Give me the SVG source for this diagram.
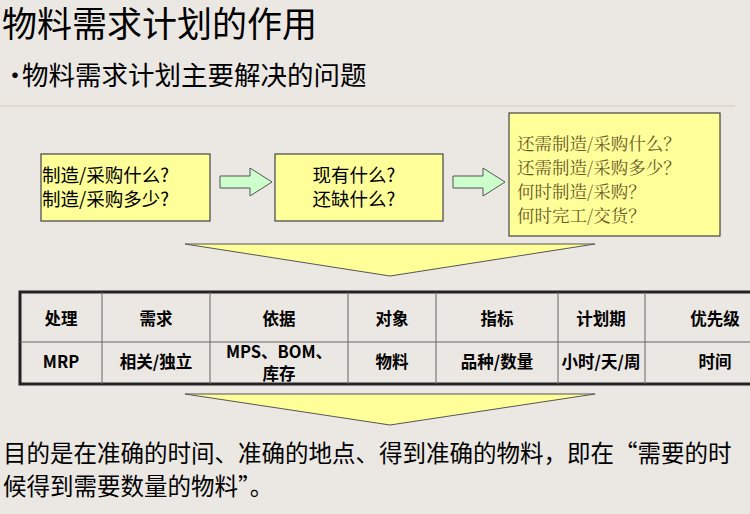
<svg xmlns="http://www.w3.org/2000/svg" width="750" height="514" viewBox="0 0 750 514">
<style>
text{font-family:"Noto Sans CJK SC","Liberation Sans",sans-serif;fill:#000}
.box{fill:#ffff99;stroke:#444;stroke-width:1.2}
.arr{fill:#ccffcc;stroke:#555;stroke-width:1}
.tri{fill:#ffff99;stroke:#555;stroke-width:1}
.serif{font-family:"Noto Serif CJK SC","Noto Sans CJK SC",serif;fill:#6b5a2a;font-size:17.5px}
.th{font-size:16.5px;font-weight:bold;text-anchor:middle}
.grid{stroke:#666;stroke-width:1}
</style>
<rect width="750" height="514" fill="#ebe7e3"/>
<text x="2" y="37" font-size="35">物料需求计划的作用</text>
<text x="2" y="85" font-size="26">·</text>
<text x="22" y="85" font-size="26.5">物料需求计划主要解决的问题</text>
<line x1="0" y1="106" x2="735" y2="106" stroke="#e0d8cc" stroke-width="2"/>
<g id="box1"><rect class="box" x="41" y="154" width="169" height="67"/>
<text x="42" y="182" font-size="18.5">制造/采购什么?</text><text x="42" y="206" font-size="18.5">制造/采购多少?</text></g>
<g id="box2"><rect class="box" x="275" y="154" width="168" height="67"/>
<text x="354" y="182" font-size="18.5" text-anchor="middle">现有什么?</text><text x="354" y="206" font-size="18.5" text-anchor="middle">还缺什么?</text></g>
<g id="box3"><rect class="box" x="509" y="113" width="211" height="123"/>
<text class="serif" x="517" y="150">还需制造/采购什么？</text>
<text class="serif" x="517" y="174">还需制造/采购多少？</text>
<text class="serif" x="517" y="198">何时制造/采购？</text>
<text class="serif" x="517" y="222">何时完工/交货？</text></g>
<g id="connectors">
<polygon class="arr" points="220,176 250,176 250,168 272,182 250,196 250,188 220,188"/>
<polygon class="arr" points="453,176 483,176 483,168 505,182 483,196 483,188 453,188"/>
<polygon class="tri" points="185,244 595,244 390,276"/>
<polygon class="tri" points="185,394 595,394 390,425"/>
</g>
<g id="table">
<rect x="20" y="292" width="740" height="92" fill="none" stroke="#222" stroke-width="3"/>
<line class="grid" x1="20" y1="342" x2="750" y2="342"/>
<line class="grid" x1="102" y1="292" x2="102" y2="384"/>
<line class="grid" x1="210" y1="292" x2="210" y2="384"/>
<line class="grid" x1="348" y1="292" x2="348" y2="384"/>
<line class="grid" x1="436" y1="292" x2="436" y2="384"/>
<line class="grid" x1="558" y1="292" x2="558" y2="384"/>
<line class="grid" x1="645" y1="292" x2="645" y2="384"/>
<text class="th" x="61" y="325">处理</text><text class="th" x="156" y="325">需求</text>
<text class="th" x="279" y="325">依据</text><text class="th" x="392" y="325">对象</text>
<text class="th" x="497" y="325">指标</text><text class="th" x="601" y="325">计划期</text>
<text class="th" x="715" y="325">优先级</text>
<text class="th" x="61" y="368">MRP</text><text class="th" x="156" y="368">相关/独立</text>
<text class="th" x="279" y="358" font-size="15.5">MPS、BOM、</text><text class="th" x="279" y="380" font-size="15.5">库存</text>
<text class="th" x="392" y="368">物料</text><text class="th" x="497" y="368">品种/数量</text>
<text class="th" x="601" y="368">小时/天/周</text><text class="th" x="715" y="368">时间</text>
</g>
<text x="3" y="462" font-size="23.5">目的是在准确的时间、准确的地点、得到准确的物料，即在“需要的时</text>
<text x="3" y="495" font-size="23.5">候得到需要数量的物料”。</text>
</svg>
